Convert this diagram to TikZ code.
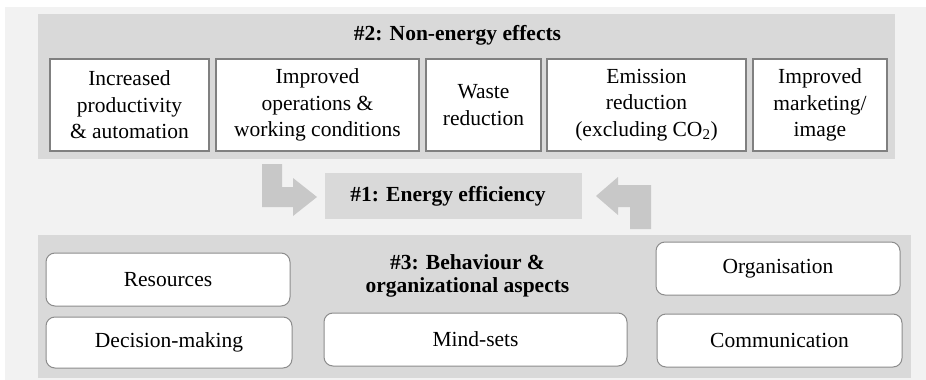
\documentclass[tikz,border=0pt]{standalone}
\usepackage{fontspec}
\setmainfont{Liberation Serif}
\newfontfamily\timesfont{Liberation Serif}
\definecolor{bgouter}{HTML}{F2F2F2}
\definecolor{panel}{HTML}{D9D9D9}
\definecolor{arrowgray}{HTML}{C8C8C8}
\definecolor{boxline}{HTML}{808080}
\definecolor{roundline}{HTML}{8C8C8C}
\tikzset{
  txt/.style={font=\timesfont\fontsize{21.5}{26.5}\selectfont, align=center, inner sep=0pt},
  btxt/.style={font=\timesfont\fontsize{21.5}{23.5}\selectfont\bfseries, align=center, inner sep=0pt},
  effbox/.style={txt, draw=boxline, line width=1.5pt, fill=white, minimum height=92pt},
  rbox/.style={txt, draw=roundline, line width=1pt, fill=white, rounded corners=9pt},
  panelbox/.style={fill=panel, draw=none},
  blockarrow/.style={fill=arrowgray, draw=none}
}
\begin{document}
\begin{tikzpicture}[x=1pt,y=-1pt]
\useasboundingbox (0,0) rectangle (926,380);
\fill[bgouter] (5,7) rectangle (926,380);
% panels
\fill[panelbox] (38,14) rectangle (895,159);
\fill[panelbox] (38,235) rectangle (911,378);
% top title
\node[btxt] (t2) at (457.5,35) {\#2: Non-energy effects};
% top boxes
\node[effbox, minimum width=159pt] (b1) at (129.5,105) {Increased\\productivity\\\& automation};
\node[effbox, minimum width=203pt] (b2) at (317.5,105) {Improved\\operations \&\\working conditions};
\node[effbox, minimum width=115pt] (b3) at (483.5,105) {Waste\\reduction};
\node[effbox, minimum width=199pt] (b4) at (646.5,105) {Emission\\reduction\\(excluding CO\textsubscript{2})};
\node[effbox, minimum width=134pt] (b5) at (820,105) {Improved\\marketing/\\image};
% energy efficiency
\node[panelbox, minimum width=257pt, minimum height=46pt, inner sep=0pt] (ee) at (453.5,196.3) {};
\node[btxt] (eet) at (448,196.3) {\#1: Energy efficiency};
% block arrows
\fill[blockarrow] (262,164) -- (282,164) -- (282,187) -- (293,187) -- (293,178) -- (317,197) -- (293,216) -- (293,207) -- (262,207) -- cycle;
\fill[blockarrow] (651,229) -- (630,229) -- (630,207) -- (618,207) -- (618,215) -- (596,196) -- (618,177) -- (618,185) -- (651,185) -- cycle;
% bottom title
\node[btxt] (t3) at (467.5,276) {\#3: Behaviour \&\\organizational aspects};
% bottom boxes
\node[rbox, minimum width=244pt, minimum height=53pt] (res) at (168,279.5) {Resources};
\node[rbox, minimum width=246pt, minimum height=51pt] (dec) at (169,342.5) {Decision-making};
\node[rbox, minimum width=303pt, minimum height=53pt] (mind) at (475.5,339.5) {Mind-sets};
\node[rbox, minimum width=244pt, minimum height=53pt] (org) at (778,268.5) {Organisation};
\node[rbox, minimum width=245pt, minimum height=53pt] (comm) at (779.5,340.5) {Communication};
\end{tikzpicture}
\end{document}
